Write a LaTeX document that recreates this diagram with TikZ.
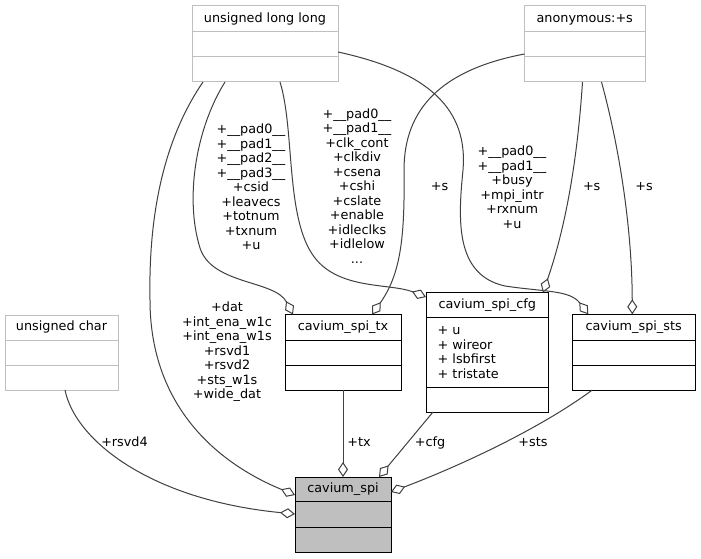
\documentclass[tikz,border=0pt]{standalone}
\usepackage{fontspec}
\setmainfont{DejaVu Sans}
\usetikzlibrary{arrows.meta,calc}
\definecolor{edgec}{HTML}{404040}
\definecolor{grayb}{HTML}{BFBFBF}
\definecolor{fillg}{HTML}{BFBFBF}
\tikzset{
  every node/.style={inner sep=0pt, outer sep=0pt},
  txt/.style={font=\fontsize{12.8}{14.5}\selectfont, align=center},
  ttl/.style={txt, text height=9.5pt, text depth=3.1pt},
  extbox/.style={draw=grayb, line width=1pt, fill=white},
  clsbox/.style={draw=black, line width=1pt, fill=white},
  mainbox/.style={draw=black, line width=1pt, fill=fillg},
  rel/.style={draw=edgec, line width=1pt, -{Diamond[length=15pt,width=10pt,fill=white]}},
}
\newcommand\umlbox[9]{%
  \node[#2, minimum width=#5pt, minimum height=#6pt, anchor=north west] (#1) at (#3,#4) {};
  \draw[#2, fill=none] ($(#1.north west)+(0,#7)$) -- ($(#1.north east)+(0,#7)$);
  \draw[#2, fill=none] ($(#1.north west)+(0,#8)$) -- ($(#1.north east)+(0,#8)$);
  \node[ttl] (#1-title) at ($(#1.north)+(0,#7/2)$) {#9};
}
\begin{document}
\begin{tikzpicture}[x=1pt,y=-1pt]
\fill[white] (0,0) rectangle (701,559);
\useasboundingbox (0,0) rectangle (701,559);

% boxes
\umlbox{ull}{extbox}{192}{6}{146}{76}{26}{51}{unsigned long long}
\umlbox{anon}{extbox}{524.5}{6}{120.5}{76}{26}{51}{anonymous:+s}
\umlbox{uchar}{extbox}{5}{315}{113}{75}{25}{50.5}{unsigned char}
\umlbox{tx}{clsbox}{285}{314.5}{116}{75.5}{25.5}{50.5}{cavium\_spi\_tx}
\umlbox{cfg}{clsbox}{426}{292.5}{122.5}{119.5}{25.3}{94.7}{cavium\_spi\_cfg}
\umlbox{sts}{clsbox}{572.3}{314.3}{122.7}{75.7}{25.7}{51}{cavium\_spi\_sts}
\umlbox{spi}{mainbox}{295}{477}{96}{75}{24.7}{50.3}{cavium\_spi}
\node[txt, align=left, anchor=north west] (cfg-attr) at ($(cfg.north west)+(11.7,34)$)
  {+ u\\+ wireor\\+ lsbfirst\\+ tristate};

% connectors
\draw[rel] ($(ull.south west)+(11,0)$) .. controls (170,130) and (148,200) .. (150,300)
  .. controls (150,400) and (210,460) .. ($(spi.north west)+(0,18)$);
\draw[rel] ($(uchar.south west)+(60,0)$) .. controls (75,440) and (150,500) .. ($(spi.north west)+(0,37)$);
\draw[rel] ($(ull.south west)+(33,0)$) .. controls (195,130) and (185,200) .. (200,248)
  .. controls (212,285) and (275,280) .. ($(tx.north west)+(8,0)$);
\draw[rel] ($(ull.south west)+(88,0)$) .. controls (295,130) and (285,220) .. (315,258)
  .. controls (340,290) and (390,283) .. ($(cfg.north west)+(0,4.5)$);
\draw[rel] ($(ull.east)+(0,8)$) .. controls (430,72) and (468,110) .. (463,170)
  .. controls (458,220) and (455,275) .. (505,286)
  .. controls (545,292) and (570,290) .. ($(sts.north west)+(16,0)$);
\draw[rel] ($(anon.west)+(0,10)$) .. controls (440,70) and (404,110) .. (404,170)
  .. controls (405,240) and (400,275) .. ($(tx.north west)+(87,0)$);
\draw[rel] ($(anon.south west)+(58,0)$) .. controls (578,150) and (568,220) .. ($(cfg.north east)+(-5.5,0)$);
\draw[rel] ($(anon.south west)+(77,0)$) .. controls (620,150) and (632,230) .. ($(sts.north west)+(60,0)$);
\draw[rel] (tx.south) -- (spi.north);
\draw[rel] ($(cfg.south west)+(7,0)$) -- ($(spi.north west)+(84,0)$);
\draw[rel] ($(sts.south west)+(20,0)$) .. controls (545,425) and (470,462) .. ($(spi.north east)+(0,15)$);

% labels
\node[txt] (l-dat) at (227,352) {+dat\\+int\_ena\_w1c\\+int\_ena\_w1s\\+rsvd1\\+rsvd2\\+sts\_w1s\\+wide\_dat};
\node[txt] (l-tx) at (251,187) {+\_\_pad0\_\_\\+\_\_pad1\_\_\\+\_\_pad2\_\_\\+\_\_pad3\_\_\\+csid\\+leavecs\\+totnum\\+txnum\\+u};
\node[txt] (l-cfg) at (357,186) {+\_\_pad0\_\_\\+\_\_pad1\_\_\\+clk\_cont\\+clkdiv\\+csena\\+cshi\\+cslate\\+enable\\+idleclks\\+idlelow\\...};
\node[txt] (l-sts) at (512,187) {+\_\_pad0\_\_\\+\_\_pad1\_\_\\+busy\\+mpi\_intr\\+rxnum\\+u};
\node[ttl] (l-s1) at (439.5,187) {+s};
\node[ttl] (l-s2) at (591.7,187) {+s};
\node[ttl] (l-s3) at (644,187) {+s};
\node[ttl] (l-rsvd4) at (124.5,443) {+rsvd4};
\node[ttl] (l-txe) at (359,443) {+tx};
\node[ttl] (l-cfge) at (430,443) {+cfg};
\node[ttl] (l-stse) at (533,443) {+sts};
\end{tikzpicture}
\end{document}
